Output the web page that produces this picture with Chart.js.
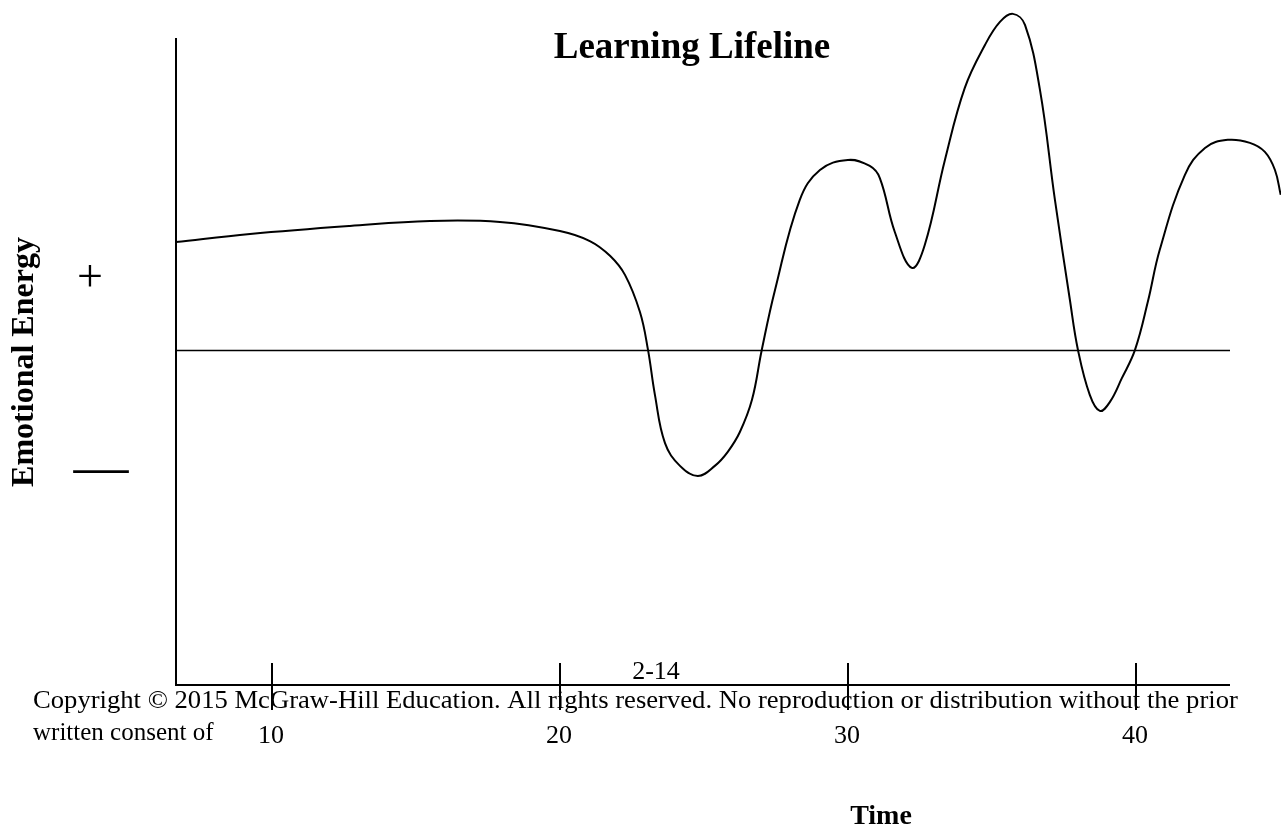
<!DOCTYPE html>
<html>
<head>
<meta charset="utf-8">
<title>Learning Lifeline</title>
<script src="https://cdn.jsdelivr.net/npm/chart.js@4.4.1/dist/chart.umd.min.js"></script>
<style>
	html, body { margin: 0; padding: 0; background: #ffffff; }
	#wrap { width: 1281px; height: 826px; }
</style>
</head>
<body>
<div id="wrap"><canvas id="myChart"></canvas></div>
<script>
// time axis (x) and emotional energy (y)
var timeValues = [6.67, 9.24, 12.71, 15.49, 17.92, 20.0, 21.04, 21.74, 22.26, 22.78, 23.06, 23.3, 23.65, 24.17, 24.79, 25.38, 25.83, 26.25, 26.67, 27.01, 27.47, 28.33, 29.03, 30.0, 30.76, 31.11, 31.63, 32.22, 32.67, 33.37, 34.06, 34.76, 35.28, 35.73, 36.15, 36.67, 37.19, 37.71, 37.99, 38.4, 38.75, 39.1, 39.51, 39.97, 40.42, 40.83, 41.7, 42.4, 43.19, 43.96, 44.48, 44.83, 45.03];
var energyValues = [3.22, 3.46, 3.7, 3.85, 3.82, 3.55, 3.25, 2.81, 2.24, 1.13, 0, -1.34, -2.78, -3.46, -3.76, -3.46, -3.04, -2.45, -1.49, 0, 1.79, 4.48, 5.37, 5.67, 5.49, 5.13, 3.52, 2.45, 3.13, 5.67, 7.82, 9.1, 9.79, 10.03, 9.7, 7.76, 4.48, 1.49, 0, -1.34, -1.82, -1.55, -0.85, 0, 1.45, 2.99, 5.22, 6.03, 6.27, 6.18, 5.91, 5.37, 4.63];
var timeTicks = [10, 20, 30, 40];
var timeMin = 6.67;
var timeMax = 45.04;
var axisEnd = 43.26;
var energyMin = -10;
var energyMax = 9.31;

var serif = "'Liberation Serif', 'Times New Roman', serif";

var points = [];
for (var i = 0; i < timeValues.length; i++) {
	points.push({ x: timeValues[i], y: energyValues[i] });
}

var slideDecor = {
	id: "slideDecor",
	afterDraw: function(chart) {
		var ctx = chart.ctx;
		var area = chart.chartArea;
		var xs = chart.scales.x;
		var ys = chart.scales.y;
		var right = Math.round(xs.getPixelForValue(axisEnd));
		ctx.save();
		ctx.strokeStyle = "#000000";
		ctx.fillStyle = "#000000";

		// axes
		ctx.lineWidth = 2;
		ctx.beginPath();
		ctx.moveTo(area.left, area.top);
		ctx.lineTo(area.left, area.bottom);
		ctx.lineTo(right, area.bottom);
		ctx.stroke();

		// zero line
		var zeroY = Math.round(ys.getPixelForValue(0)) + 0.5;
		ctx.lineWidth = 1.5;
		ctx.beginPath();
		ctx.moveTo(area.left, zeroY);
		ctx.lineTo(right, zeroY);
		ctx.stroke();

		// tick marks crossing the time axis, and their labels
		ctx.lineWidth = 2;
		ctx.font = "26px " + serif;
		ctx.textAlign = "center";
		ctx.textBaseline = "alphabetic";
		for (var i = 0; i < timeTicks.length; i++) {
			var tx = Math.round(xs.getPixelForValue(timeTicks[i]));
			ctx.beginPath();
			ctx.moveTo(tx, area.bottom - 22);
			ctx.lineTo(tx, area.bottom + 25);
			ctx.stroke();
			ctx.fillText(String(timeTicks[i]), tx - 1, area.bottom + 58);
		}

		// slide number
		ctx.fillText("2-14", 656, area.bottom - 6);

		// + and - marks
		ctx.font = "46px " + serif;
		ctx.textBaseline = "middle";
		ctx.fillText("+", 90, 279);
		ctx.font = "55px " + serif;
		ctx.fillText("\u2014", 101, 470);

		// copyright
		ctx.font = "25px " + serif;
		ctx.textAlign = "left";
		ctx.textBaseline = "alphabetic";
		ctx.save();
		ctx.translate(33, 708);
		ctx.scale(1.065, 1);
		ctx.fillText("Copyright \u00a9 2015 McGraw-Hill Education. All rights reserved. No reproduction or distribution without the prior", 0, 0);
		ctx.restore();
		ctx.fillText("written consent of", 33, 740);

		// title
		ctx.font = "bold 37px " + serif;
		ctx.textAlign = "center";
		ctx.fillText("Learning Lifeline", 692, 58);

		// axis titles
		ctx.font = "bold 28px " + serif;
		ctx.fillText("Time", 881, 824);

		ctx.translate(33, 362);
		ctx.rotate(-Math.PI / 2);
		ctx.font = "bold 32px " + serif;
		ctx.fillText("Emotional Energy", 0, 0);

		ctx.restore();
	}
};

document.addEventListener("DOMContentLoaded", function(event) {
	var ctx = document.getElementById("myChart").getContext("2d");
	var chart = new Chart(ctx, {
		type: "line",
		data: {
			datasets: [{
				label: "Learning Lifeline",
				data: points,
				borderColor: "#000000",
				borderWidth: 2,
				pointRadius: 0,
				fill: false,
				tension: 0.4,
				capBezierPoints: false,
				clip: false
			}]
		},
		options: {
			responsive: true,
			maintainAspectRatio: false,
			animation: false,
			layout: {
				padding: { left: 176, right: 0, top: 38, bottom: 141 }
			},
			plugins: {
				legend: { display: false },
				title: { display: false },
				tooltip: { enabled: false }
			},
			scales: {
				x: { type: "linear", min: timeMin, max: timeMax, display: false },
				y: { type: "linear", min: energyMin, max: energyMax, display: false }
			}
		},
		plugins: [slideDecor]
	});
});
</script>
</body>
</html>
